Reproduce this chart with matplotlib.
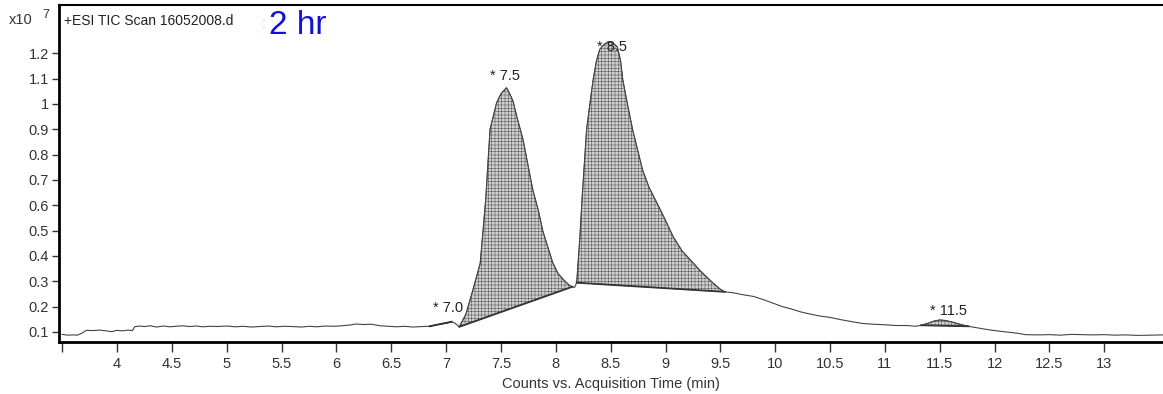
import numpy as np
import matplotlib
matplotlib.use("Agg")
import matplotlib.pyplot as plt

plt.rcParams['font.family'] = ['Liberation Sans', 'DejaVu Sans']
plt.rcParams['hatch.linewidth'] = 0.35
plt.rcParams['hatch.color'] = '#505050'

# TIC trace (x10^7 counts vs. minutes)
time = [3.50, 3.55, 3.60, 3.64, 3.68, 3.72, 3.78, 3.84, 3.90, 3.95, 4.00, 4.05, 4.10, 4.14,
        4.16, 4.20, 4.25, 4.30, 4.36, 4.42, 4.48, 4.54, 4.60, 4.66, 4.72, 4.78, 4.85, 4.92,
        5.00, 5.08, 5.15, 5.22, 5.30, 5.38, 5.45, 5.52, 5.60, 5.68, 5.75, 5.82, 5.90, 5.98,
        6.05, 6.12, 6.18, 6.25, 6.32, 6.40, 6.48, 6.55, 6.62, 6.70, 6.78, 6.85, 6.90, 6.95,
        7.00, 7.05, 7.08, 7.12, 7.18, 7.24, 7.31, 7.36, 7.40, 7.46, 7.50, 7.55, 7.58, 7.61,
        7.65, 7.70, 7.75, 7.79, 7.84, 7.88, 7.93, 7.97, 8.02, 8.07, 8.12, 8.15, 8.17, 8.19,
        8.22, 8.24, 8.28, 8.31, 8.34, 8.37, 8.40, 8.44, 8.48, 8.52, 8.56, 8.59, 8.61, 8.65,
        8.70, 8.75, 8.79, 8.85, 8.92, 9.00, 9.07, 9.15, 9.25, 9.33, 9.43, 9.50, 9.54, 9.62,
        9.70, 9.80, 9.90, 10.00, 10.07, 10.15, 10.23, 10.30, 10.40, 10.50, 10.60, 10.70,
        10.80, 10.90, 11.00, 11.10, 11.20, 11.28, 11.33, 11.40, 11.45, 11.50, 11.55, 11.62,
        11.70, 11.76, 11.85, 11.92, 12.00, 12.10, 12.20, 12.28, 12.40, 12.50, 12.60, 12.70,
        12.80, 12.90, 13.00, 13.10, 13.20, 13.30, 13.40, 13.54]
intensity = [0.090, 0.087, 0.088, 0.087, 0.095, 0.106, 0.105, 0.107, 0.104, 0.101, 0.106, 0.104, 0.107, 0.105,
             0.120, 0.123, 0.121, 0.124, 0.119, 0.123, 0.120, 0.122, 0.124, 0.121, 0.123, 0.120, 0.122, 0.121,
             0.123, 0.120, 0.122, 0.119, 0.121, 0.123, 0.120, 0.122, 0.121, 0.119, 0.122, 0.120, 0.123, 0.122,
             0.124, 0.127, 0.131, 0.129, 0.130, 0.124, 0.122, 0.120, 0.122, 0.119, 0.121, 0.122, 0.127, 0.131,
             0.134, 0.140, 0.134, 0.120, 0.170, 0.260, 0.370, 0.620, 0.900, 1.005, 1.040, 1.064, 1.040, 1.010,
             0.940, 0.860, 0.750, 0.660, 0.580, 0.500, 0.430, 0.375, 0.330, 0.306, 0.285, 0.278, 0.275, 0.294,
             0.480, 0.634, 0.898, 1.000, 1.096, 1.170, 1.215, 1.235, 1.246, 1.240, 1.226, 1.170, 1.096, 1.005,
             0.898, 0.810, 0.740, 0.670, 0.610, 0.540, 0.475, 0.420, 0.373, 0.335, 0.294, 0.268, 0.258, 0.254,
             0.247, 0.240, 0.226, 0.210, 0.199, 0.190, 0.179, 0.172, 0.163, 0.157, 0.148, 0.140,
             0.133, 0.130, 0.128, 0.125, 0.125, 0.122, 0.126, 0.135, 0.143, 0.147, 0.145, 0.138,
             0.128, 0.122, 0.115, 0.110, 0.105, 0.100, 0.095, 0.089, 0.088, 0.089, 0.087, 0.090,
             0.089, 0.088, 0.089, 0.087, 0.088, 0.086, 0.087, 0.088]

# integrated peaks: label, start, end (min), label spot
peak_labels = ['7.0', '7.5', '8.5', '11.5']
peak_start = [6.85, 7.12, 8.19, 11.30]
peak_end = [7.06, 8.15, 9.54, 11.78]
label_x = [7.02, 7.54, 8.51, 11.575]
label_y = [0.195, 1.109, 1.224, 0.183]

x_ticks = [3.5, 4, 4.5, 5, 5.5, 6, 6.5, 7, 7.5, 8, 8.5, 9, 9.5, 10, 10.5, 11, 11.5, 12, 12.5, 13]
x_tick_labels = ['', '4', '4.5', '5', '5.5', '6', '6.5', '7', '7.5', '8', '8.5', '9', '9.5',
                 '10', '10.5', '11', '11.5', '12', '12.5', '13']
y_ticks = [0.1, 0.2, 0.3, 0.4, 0.5, 0.6, 0.7, 0.8, 0.9, 1.0, 1.1, 1.2]
y_tick_labels = ['0.1', '0.2', '0.3', '0.4', '0.5', '0.6', '0.7', '0.8', '0.9', '1', '1.1', '1.2']

t = np.array(time)
s = np.array(intensity)

fig = plt.figure(figsize=(11.63, 3.94), dpi=100)
ax = fig.add_axes([0.0507, 0.132, 0.9493, 0.855])

ax.plot(t, s, color='#444444', lw=0.8)

for a, b in zip(peak_start, peak_end):
    m = (t >= a) & (t <= b)
    tt = t[m]
    ss = s[m]
    base = np.interp(tt, [tt[0], tt[-1]], [ss[0], ss[-1]])
    ax.fill_between(tt, base, ss, facecolor='#cfcfcf', edgecolor='#505050',
                    hatch='+++++', lw=0.6)
    ax.plot([tt[0], tt[-1]], [ss[0], ss[-1]], color='#333333', lw=1.3)

for lab, lx, ly in zip(peak_labels, label_x, label_y):
    ax.text(lx, ly, '* ' + lab, ha='center', va='center', fontsize=10.5, color='#222222')

ax.set_xlim(3.47, 13.535)
ax.set_ylim(0.06, 1.39)
ax.set_xticks(x_ticks)
ax.set_xticklabels(x_tick_labels)
ax.set_yticks(y_ticks)
ax.set_yticklabels(y_tick_labels)
ax.tick_params(axis='x', direction='out', length=7, width=1, labelsize=10.5,
               colors='#333333', pad=4)
ax.tick_params(axis='y', direction='out', length=5, width=1, labelsize=10.5,
               colors='#333333', pad=2)

ax.spines['left'].set_linewidth(2)
ax.spines['bottom'].set_linewidth(2)
ax.spines['top'].set_linewidth(1.5)
ax.spines['right'].set_visible(False)

ax.set_xlabel('Counts vs. Acquisition Time (min)', fontsize=10.5, color='#333333', labelpad=4)

fig.text(0.008, 0.949, 'x10', fontsize=10.5, color='#333333', va='center')
fig.text(0.036, 0.962, '7', fontsize=9, color='#333333', va='center')
ax.text(0.005, 0.975, '+ESI TIC Scan 16052008.d', transform=ax.transAxes,
        fontsize=10, color='#222222', va='top')
fig.text(0.225, 0.94, ':', fontsize=10, color='#b8c850', va='center')
fig.text(0.231, 0.935, '2 hr', fontsize=24, color='#1010dd', va='center')

fig.savefig('out.png', dpi=100)
